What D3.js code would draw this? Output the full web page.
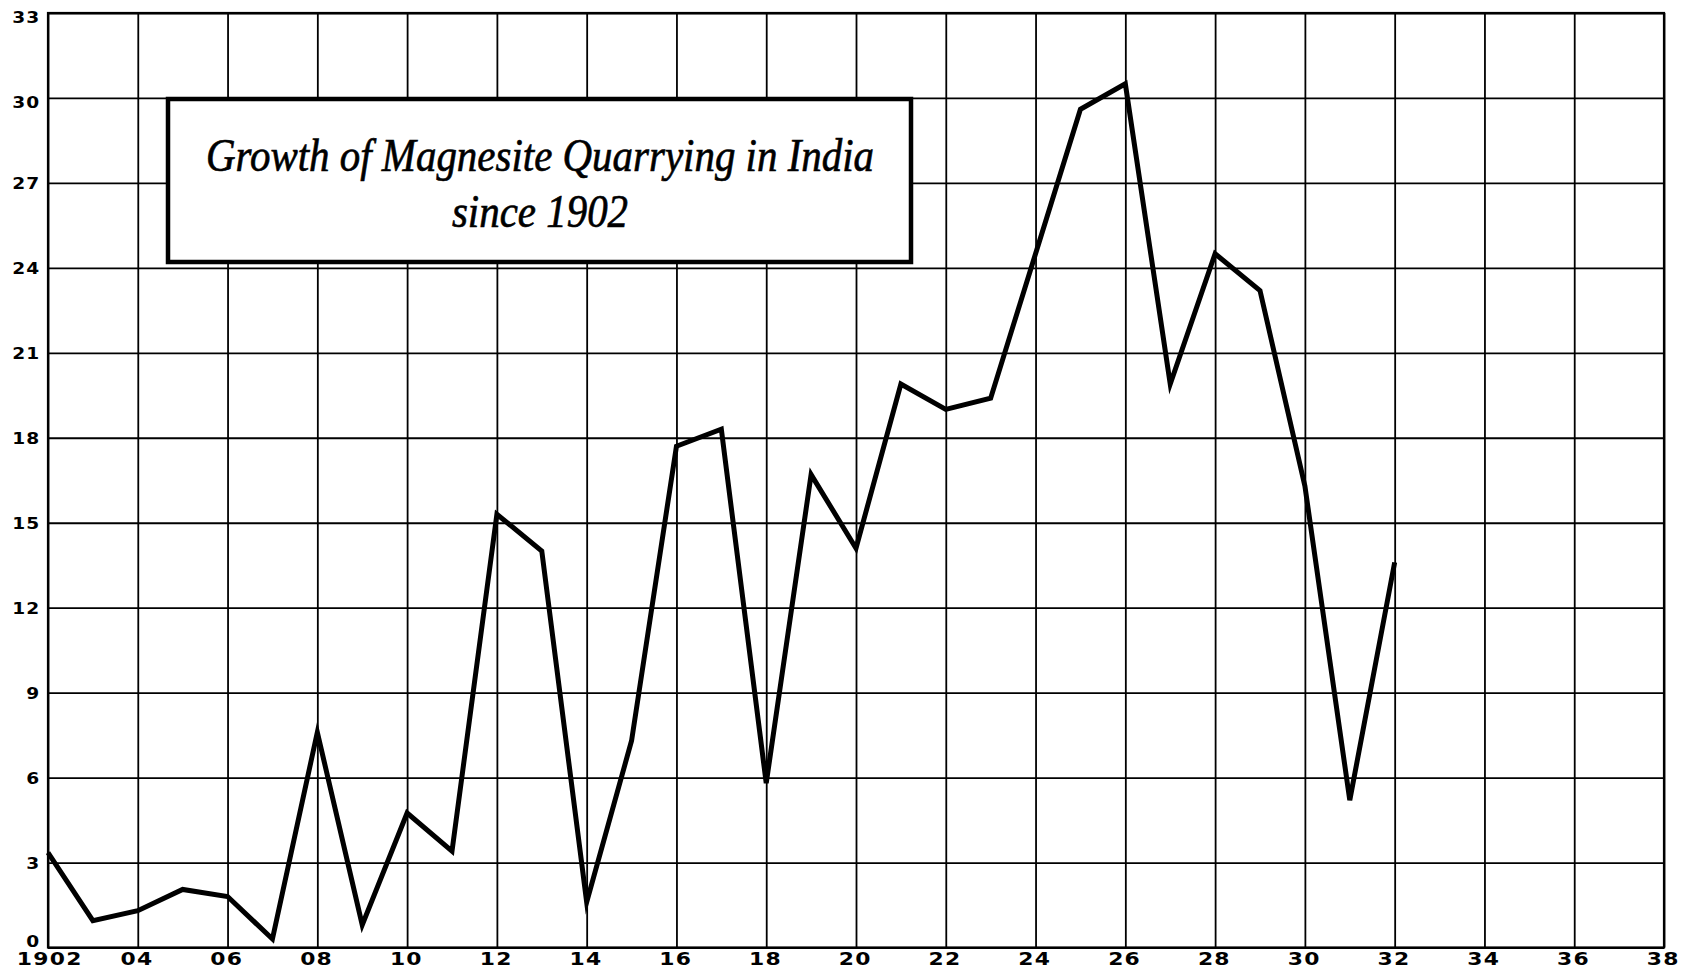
<!DOCTYPE html>
<html>
<head>
<meta charset="utf-8">
<script src="https://cdn.jsdelivr.net/npm/d3@7"></script>
<style>
body { margin: 0; background: #fff; }
.tick text { font-family: "DejaVu Sans", sans-serif; font-weight: bold; fill: #000; }
</style>
</head>
<body>
<div id="chart"></div>
<script>
// magnesite output, India
var years = [1902,1903,1904,1905,1906,1907,1908,1909,1910,1911,1912,1913,1914,1915,1916,1917,
             1918,1919,1920,1921,1922,1923,1924,1925,1926,1927,1928,1929,1930,1931,1932];
var output = [3.35,0.95,1.3,2.05,1.8,0.3,7.6,0.8,4.75,3.4,15.3,14.0,1.6,7.3,17.7,18.3,
              5.8,16.7,14.1,19.9,19.0,19.4,24.5,29.6,30.5,19.9,24.5,23.2,16.3,5.2,13.6];
var xTicks = [1902,1904,1906,1908,1910,1912,1914,1916,1918,1920,1922,1924,1926,1928,1930,1932,1934,1936,1938];
var yTicks = [0,3,6,9,12,15,18,21,24,27,30,33];
var titleLines = ["Growth of Magnesite Quarrying in India", "since 1902"];

(function () {
var width = 1684,
    height = 972;
var left = 48, right = 1664, top = 13, bottom = 947.5;

var svg = d3.select("#chart")
  .append("svg")
  .attr("width", width)
  .attr("height", height)
  .style("background", "#fff");

var x = d3.scaleLinear().domain([1902, 1938]).range([left, right]);
var y = d3.scaleLinear().domain([0, 33]).range([bottom, top]);

// vertical grid + year labels
var xAxis = svg.append("g")
  .attr("transform", "translate(0," + bottom + ")")
  .call(d3.axisBottom(x)
    .tickValues(xTicks)
    .tickSize(-(bottom - top))
    .tickPadding(5)
    .tickFormat(function (d) { return d === 1902 ? "1902" : String(d % 100).padStart(2, "0"); }));
xAxis.select(".domain").remove();
xAxis.selectAll(".tick line").attr("stroke", "#000").attr("stroke-width", 1.8);
xAxis.selectAll(".tick text")
  .attr("font-size", 17.5)
  .style("font-size", "17.5px")
  .style("letter-spacing", "1px")
  .attr("transform", "scale(1.25,1)")
  .attr("dy", "0.74em")
  .attr("dx", function (d) { return d === 1902 ? 1 : -1; });

// horizontal grid + value labels
var yAxis = svg.append("g")
  .attr("transform", "translate(" + left + ",0)")
  .call(d3.axisLeft(y)
    .tickValues(yTicks)
    .tickSize(-(right - left))
    .tickPadding(6));
yAxis.select(".domain").remove();
yAxis.selectAll(".tick line").attr("stroke", "#000").attr("stroke-width", 1.8);
yAxis.selectAll(".tick text")
  .attr("font-size", 15.5)
  .style("font-size", "15.5px")
  .style("letter-spacing", "1px")
  .attr("x", -7.5 / 1.2)
  .attr("transform", "scale(1.2,1)")
  .attr("dy", function (d) { return d === 0 ? "-0.05em" : (d >= 30 ? "0.6em" : "0.38em"); });

// frame
svg.append("rect")
  .attr("x", left).attr("y", top)
  .attr("width", right - left).attr("height", bottom - top)
  .attr("fill", "none").attr("stroke", "#000").attr("stroke-width", 2.2);

// the series
var line = d3.line()
  .x(function (d, i) { return x(years[i]); })
  .y(function (d) { return y(d); });

svg.append("path")
  .datum(output)
  .attr("d", line)
  .attr("fill", "none")
  .attr("stroke", "#000")
  .attr("stroke-width", 5)
  .attr("stroke-linejoin", "miter")
  .attr("stroke-miterlimit", 6);

// title box
var box = svg.append("g");
box.append("rect")
  .attr("x", 168).attr("y", 99)
  .attr("width", 743).attr("height", 163)
  .attr("fill", "#fff")
  .attr("stroke", "#000").attr("stroke-width", 4.5);

var tl = box.selectAll("text")
  .data(titleLines)
  .enter().append("text")
  .attr("transform", function (d, i) { return "translate(540," + (i === 0 ? 171 : 227) + ") scale(1,1.12)"; })
  .attr("text-anchor", "middle")
  .style("font-family", "'Liberation Serif', 'DejaVu Serif', serif")
  .style("font-style", "italic")
  .style("font-size", "42px")
  .style("stroke", "#000")
  .style("stroke-width", "0.6px")
  .text(function (d) { return d; });

// fit the first line to the width it has in the original
var w = tl.nodes()[0].getComputedTextLength();
var fs = 42 * 668 / w;
tl.style("font-size", fs + "px");

})();
</script>
</body>
</html>
